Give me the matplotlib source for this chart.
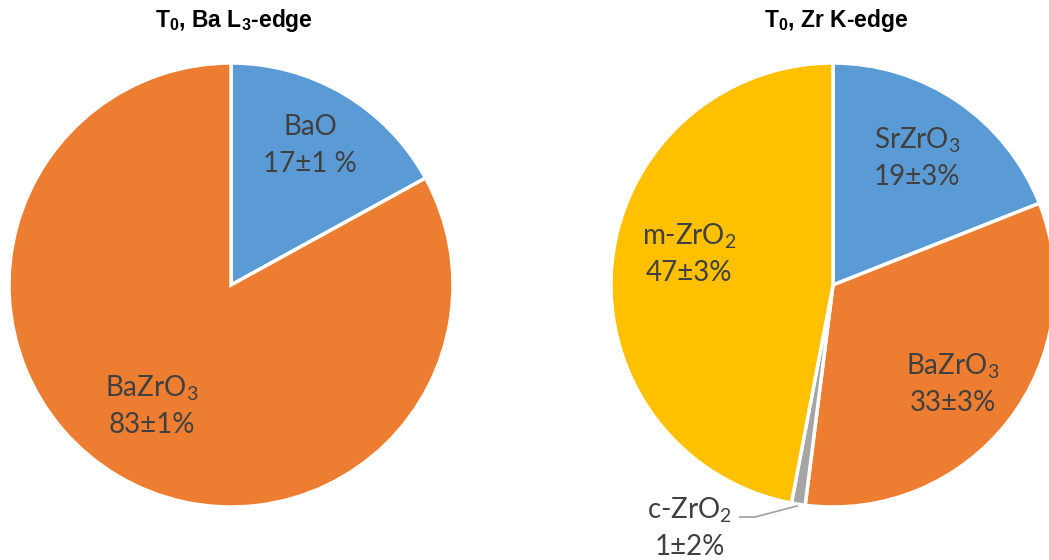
import matplotlib
matplotlib.use("Agg")
import matplotlib.pyplot as plt

# Phase fractions (percent) and uncertainties
ba_labels = ["BaO", "BaZrO$_3$"]
ba_values = [17, 83]
ba_errors = [1, 1]
ba_colors = ["#5B9BD5", "#ED7D31"]

zr_labels = ["SrZrO$_3$", "BaZrO$_3$", "c-ZrO$_2$", "m-ZrO$_2$"]
zr_values = [19, 33, 1, 47]
zr_errors = [3, 3, 2, 3]
zr_colors = ["#5B9BD5", "#ED7D31", "#A5A5A5", "#FFC000"]

plt.rcParams["mathtext.fontset"] = "custom"
plt.rcParams["mathtext.rm"] = "Lato"
plt.rcParams["mathtext.it"] = "Lato:italic"
plt.rcParams["mathtext.bf"] = "Liberation Sans:bold"

W, H = 1049, 560
fig = plt.figure(figsize=(W / 100, H / 100), dpi=100)
ax = fig.add_axes([0, 0, 1, 1])

R = 222
left_c = (231, H - 285)
right_c = (833, H - 285)
wedge = dict(edgecolor="white", linewidth=2.5)

ax.pie(ba_values, colors=ba_colors, startangle=90, counterclock=False,
       center=left_c, radius=R, wedgeprops=wedge, frame=True)
ax.pie(zr_values, colors=zr_colors, startangle=90, counterclock=False,
       center=right_c, radius=R, wedgeprops=wedge, frame=True)
ax.set_xlim(0, W)
ax.set_ylim(0, H)
ax.set_aspect("equal")
ax.axis("off")

txt = dict(fontsize=20, family="Lato", color="#404040", ha="center", va="center")

def label(x, y, name, val, err, sep=""):
    ax.text(x, H - y, name, **txt)
    ax.text(x, H - y - 37, f"{val}±{err}{sep}%", **txt)

label(310, 127, ba_labels[0], ba_values[0], ba_errors[0], sep=" ")
label(152, 388, ba_labels[1], ba_values[1], ba_errors[1])
label(917, 140, zr_labels[0], zr_values[0], zr_errors[0])
label(953, 366, zr_labels[1], zr_values[1], zr_errors[1])
label(689, 236, zr_labels[3], zr_values[3], zr_errors[3])
label(690, 510, zr_labels[2], zr_values[2], zr_errors[2])

# leader line for the small c-ZrO2 slice
ax.plot([740, 755, 797], [H - 517, H - 517, H - 506], color="#A5A5A5", lw=1.3)

title = dict(fontsize=16.5, family="Liberation Sans", weight="bold", ha="center", va="center", color="black")
ax.text(234, H - 21, "T$_\\mathbf{0}$, Ba L$_\\mathbf{3}$-edge", **title)
ax.text(836, H - 21, "T$_\\mathbf{0}$, Zr K-edge", **title)

fig.savefig("out.png", dpi=100)
